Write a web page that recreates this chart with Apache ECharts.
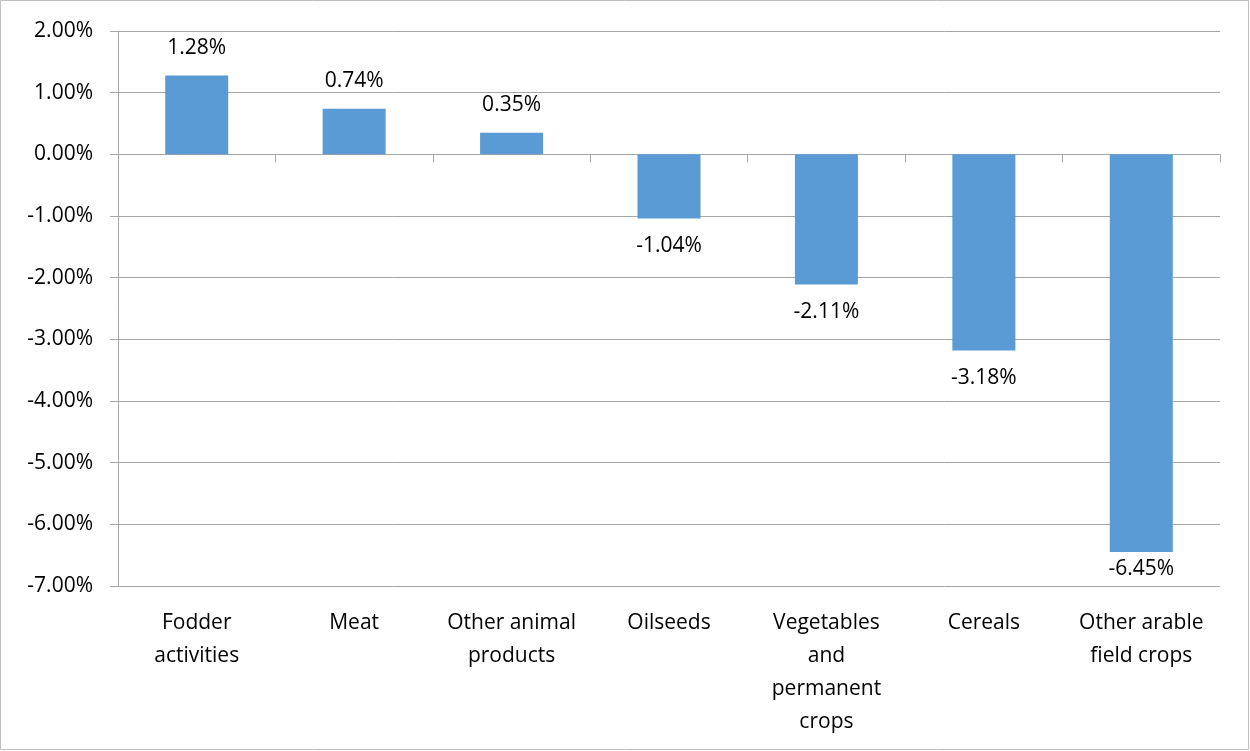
<!DOCTYPE html>
<html>
<head>
<meta charset="utf-8">
<script src="https://cdn.jsdelivr.net/npm/echarts@6/dist/echarts.min.js"></script>
<style>
  html, body { margin: 0; padding: 0; background: #fff; }
  #chart { width: 1250px; height: 751px; }
</style>
</head>
<body>
<div id="chart"></div>
<script>
// categories (line breaks as in the source chart)
const categories = [
  'Fodder\nactivities',
  'Meat',
  'Other animal\nproducts',
  'Oilseeds',
  'Vegetables\nand\npermanent\ncrops',
  'Cereals',
  'Other arable\nfield crops'
]
// change in %
const values = [1.28, 0.74, 0.35, -1.04, -2.11, -3.18, -6.45]

const yMin = -7
const yMax = 2
const yStep = 1

const font = 'Open Sans'
const lineColor = '#a6a6a6'

const chart = echarts.init(document.getElementById('chart'))
const option = {
  animation: false,
  backgroundColor: '#fff',
  graphic: [{
    type: 'rect',
    shape: { x: 0.5, y: 0.5, width: 1248, height: 749 },
    style: { fill: 'none', stroke: '#bfbfbf', lineWidth: 1 },
    silent: true
  }],
  grid: { left: 118, right: 30, top: 31, bottom: 165 },
  xAxis: [
    {
      // labels along the bottom
      type: 'category',
      data: categories,
      position: 'bottom',
      axisLine: { show: false, onZero: false },
      axisTick: { show: false },
      axisLabel: {
        color: '#000',
        fontFamily: font,
        fontSize: 21,
        lineHeight: 33,
        margin: 21,
        interval: 0
      }
    },
    {
      // zero line with ticks
      type: 'category',
      data: categories,
      position: 'bottom',
      axisLine: { show: true, onZero: true, lineStyle: { color: lineColor, width: 1 } },
      axisTick: { show: true, length: 8, lineStyle: { color: lineColor } },
      axisLabel: { show: false }
    }
  ],
  yAxis: {
    type: 'value',
    min: yMin,
    max: yMax,
    interval: yStep,
    axisLine: { show: true, lineStyle: { color: lineColor } },
    axisTick: { show: true, length: 8, lineStyle: { color: lineColor } },
    splitLine: { show: true, lineStyle: { color: lineColor, width: 1 } },
    axisLabel: {
      color: '#000',
      fontFamily: font,
      fontSize: 21,
      margin: 25,
      formatter: (v) => v.toFixed(2) + '%'
    }
  },
  series: [{
    type: 'bar',
    xAxisIndex: 0,
    barWidth: 63,
    itemStyle: { color: '#5b9bd5' },
    data: values.map(v => ({
      value: v,
      // label squeezed in when the bar nearly reaches the axis bottom
      label: {
        position: v >= 0 ? 'top' : 'bottom',
        distance: (v - yMin) < 1 ? 6 : 17
      }
    })),
    label: {
      show: true,
      color: '#000',
      fontFamily: font,
      fontSize: 21,
      distance: 17,
      formatter: (p) => p.value.toFixed(2) + '%'
    }
  }]
}
chart.setOption(option)
</script>
</body>
</html>
